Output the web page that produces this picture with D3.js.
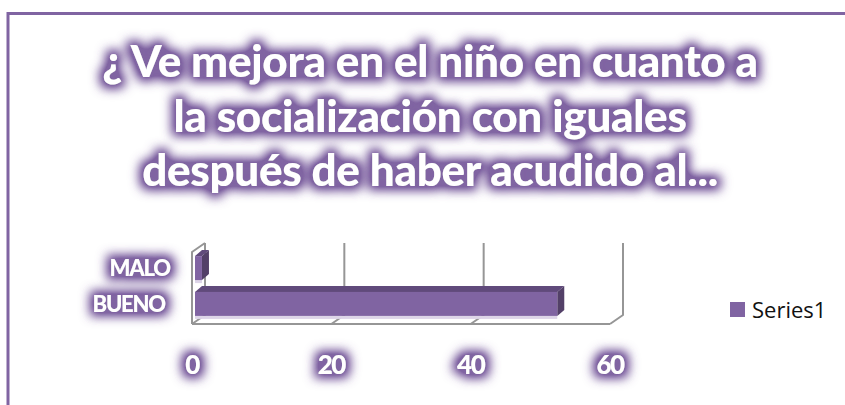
<!DOCTYPE html>
<html>
<head>
<meta charset="utf-8">
<script src="https://cdn.jsdelivr.net/npm/d3@7"></script>
<style>
  html, body { margin: 0; padding: 0; background: #fff; overflow: hidden; }
  svg { display: block; }
</style>
</head>
<body>
<div id="chart"></div>
<script>
// data
const categories = ["MALO", "BUENO"];
const values = [1, 52];
const ticks = [0, 20, 40, 60];
const seriesName = "Series1";
const titleLines = [
  "¿ Ve mejora en el niño en cuanto a",
  "la socialización con iguales",
  "después de haber acudido al..."
];

const width = 845, height = 405;
const purple = "#8064A2";

const svg = d3.select("#chart").append("svg")
  .attr("width", width)
  .attr("height", height);

// glow filter for the title and labels
const defs = svg.append("defs");
const glow = defs.append("filter").attr("id", "glow")
  .attr("x", "-20%").attr("y", "-50%").attr("width", "140%").attr("height", "200%");
glow.append("feMorphology").attr("in", "SourceAlpha").attr("operator", "dilate").attr("radius", 4).attr("result", "d");
glow.append("feGaussianBlur").attr("in", "d").attr("stdDeviation", 5.5).attr("result", "b");
glow.append("feFlood").attr("flood-color", "#8064a2").attr("flood-opacity", 1);
glow.append("feComposite").attr("in2", "b").attr("operator", "in").attr("result", "g");
glow.append("feComponentTransfer").attr("in", "g").attr("result", "g2")
  .append("feFuncA").attr("type", "linear").attr("slope", 1.4);
const merge = glow.append("feMerge");
merge.append("feMergeNode").attr("in", "g2");
merge.append("feMergeNode").attr("in", "SourceGraphic");

// outer frame
svg.append("rect")
  .attr("x", 8).attr("y", 13.5)
  .attr("width", 900).attr("height", 500)
  .attr("fill", "none")
  .attr("stroke", purple)
  .attr("stroke-width", 3);

// title
svg.append("g")
  .attr("filter", "url(#glow)")
  .selectAll("text")
  .data(titleLines)
  .join("text")
  .attr("x", 430)
  .attr("y", (d, i) => 77 + i * 54.5)
  .attr("text-anchor", "middle")
  .attr("font-family", "Lato, 'Open Sans', sans-serif")
  .attr("font-weight", 900)
  .attr("font-size", 44)
  .attr("letter-spacing", -0.3)
  .attr("fill", "#fff")
  .text(d => d);

// 3D plot geometry
const back = { top: 243, bottom: 315 };
const wall = { dx: -13, dy: 9 };

const x = d3.scaleLinear()
  .domain([0, 60])
  .range([205, 623]);

const y = d3.scaleBand()
  .domain(categories)
  .range([250, 322])
  .paddingInner(0.33)
  .paddingOuter(0.17);

const grid = svg.append("g")
  .attr("fill", "none")
  .attr("stroke", "#969696")
  .attr("stroke-width", 2)
  .attr("stroke-linejoin", "round");

// left wall
grid.append("path")
  .attr("d", `M${x(0)},${back.top} L${x(0) + wall.dx},${back.top + wall.dy} L${x(0) + wall.dx},${back.bottom + wall.dy}`);

// floor front edge
grid.append("path")
  .attr("d", `M${x(0) + wall.dx},${back.bottom + wall.dy} L${x(60) + wall.dx},${back.bottom + wall.dy}`);

// gridlines on the back wall and floor
grid.selectAll("path.gl")
  .data(ticks)
  .join("path")
  .attr("class", "gl")
  .attr("d", t => `M${x(t)},${back.top} L${x(t)},${back.bottom} L${x(t) + wall.dx},${back.bottom + wall.dy}`);

// bars
const barFront = -10, barBack = -3, barDy = -6;
const bars = svg.append("g");
categories.forEach((c, i) => {
  const v = values[i];
  const x0 = x(0) + barFront, x1 = x(v) + barFront;
  const y0 = y(c), y1 = y(c) + y.bandwidth();
  const ddx = barBack - barFront;
  // shadow line under the bar
  bars.append("rect")
    .attr("x", x0).attr("y", y1)
    .attr("width", x1 - x0).attr("height", 3)
    .attr("fill", "#ddd5e8");
  // top face
  bars.append("path")
    .attr("d", `M${x0},${y0} L${x0 + ddx},${y0 + barDy} L${x1 + ddx},${y0 + barDy} L${x1},${y0} Z`)
    .attr("fill", "#604a7b");
  // side face
  bars.append("path")
    .attr("d", `M${x1},${y0} L${x1 + ddx},${y0 + barDy} L${x1 + ddx},${y1 + barDy} L${x1},${y1} Z`)
    .attr("fill", "#534068");
  // front face
  bars.append("rect")
    .attr("x", x0).attr("y", y0)
    .attr("width", x1 - x0).attr("height", y1 - y0)
    .attr("fill", purple);
});

// category labels
svg.append("g")
  .attr("filter", "url(#glow)")
  .selectAll("text")
  .data(categories)
  .join("text")
  .attr("x", (c, i) => 170 - i * 5)
  .attr("y", c => y(c) + y.bandwidth() / 2 + 8)
  .attr("text-anchor", "end")
  .attr("font-family", "Lato, sans-serif")
  .attr("font-weight", 900)
  .attr("font-size", 22)
  .attr("letter-spacing", -1.2)
  .attr("fill", "#fff")
  .text(c => c);

// value axis labels
svg.append("g")
  .attr("filter", "url(#glow)")
  .selectAll("text")
  .data(ticks)
  .join("text")
  .attr("x", t => x(t) + wall.dx)
  .attr("y", 374)
  .attr("text-anchor", "middle")
  .attr("font-family", "Lato, sans-serif")
  .attr("font-weight", 900)
  .attr("font-size", 26)
  .attr("letter-spacing", -1.5)
  .attr("fill", "#fff")
  .text(t => t);

// legend
const legend = svg.append("g");
legend.append("rect")
  .attr("x", 730).attr("y", 302)
  .attr("width", 15).attr("height", 15)
  .attr("fill", purple);
legend.append("text")
  .attr("x", 752).attr("y", 318)
  .attr("font-family", "'Open Sans', sans-serif")
  .attr("font-size", 22)
  .attr("fill", "#111")
  .text(seriesName);
</script>
</body>
</html>
